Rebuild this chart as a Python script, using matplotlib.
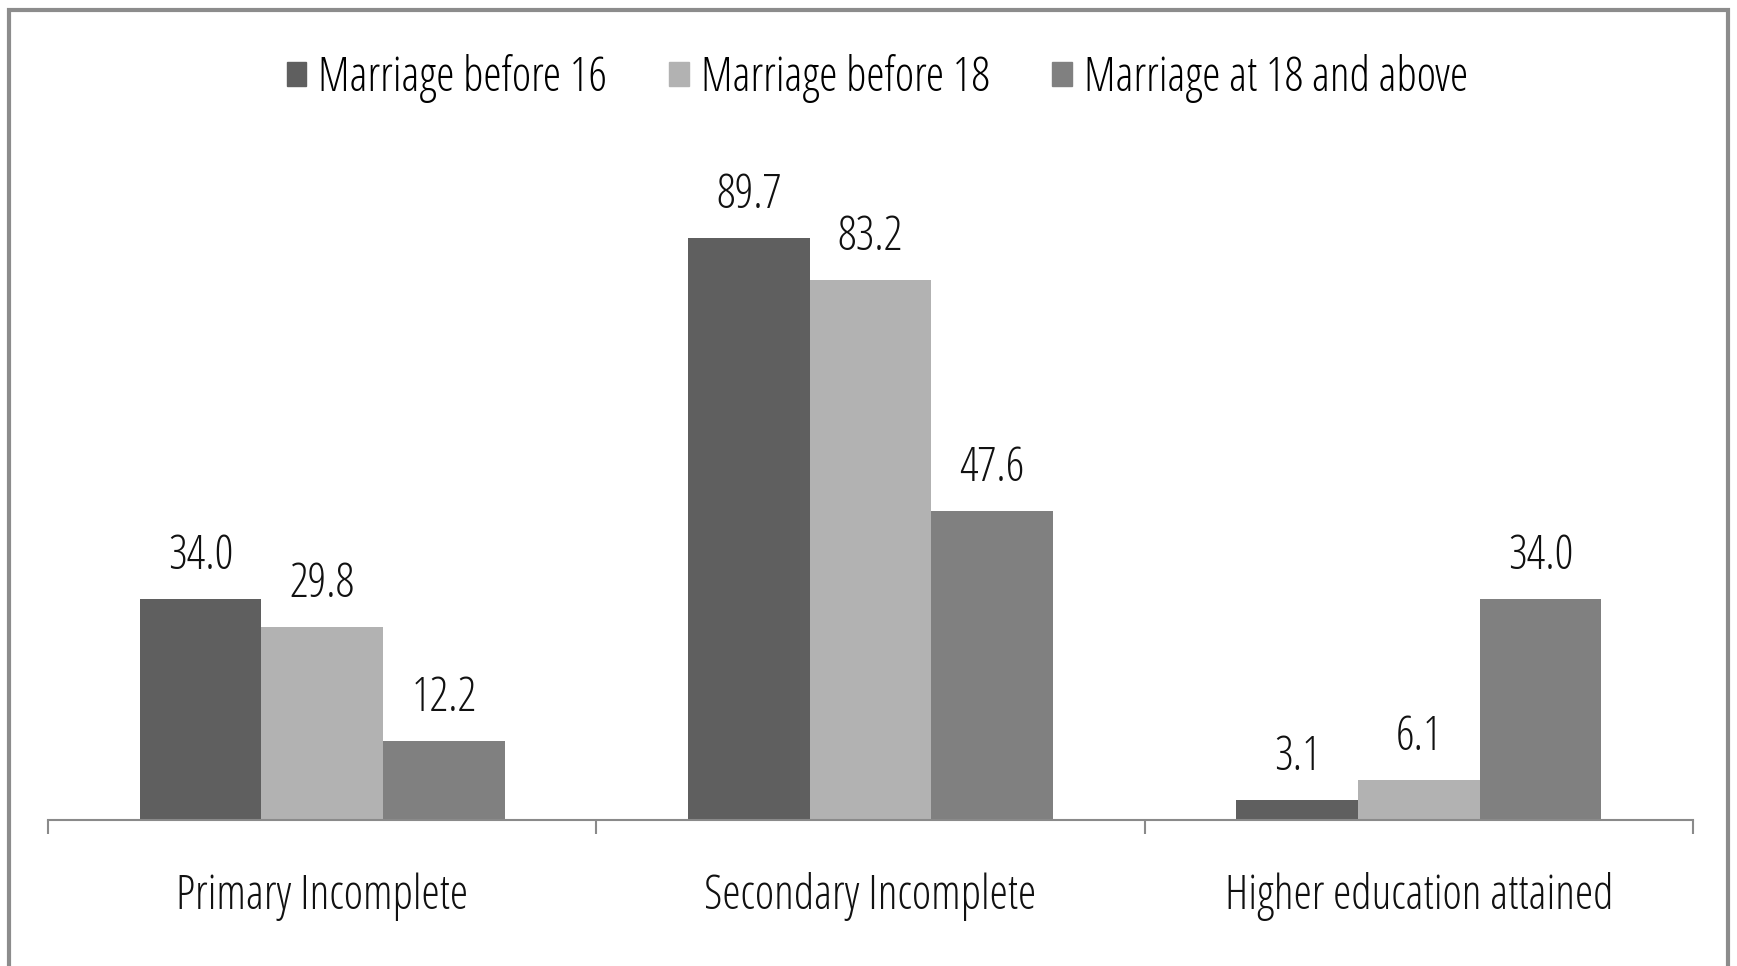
import matplotlib
matplotlib.use('Agg')
import matplotlib.pyplot as plt
import numpy as np
from matplotlib.patches import Rectangle, Patch

# ------------ donnees ------------
categories = ['Primary Incomplete', 'Secondary Incomplete', 'Higher education attained']
series_names = ['Marriage before 16', 'Marriage before 18', 'Marriage at 18 and above']
before16 = [34.0, 89.7, 3.1]
before18 = [29.8, 83.2, 6.1]
at18_above = [12.2, 47.6, 34.0]
colors = ['#5f5f5f', '#b2b2b2', '#808080']

# police etroite (proche du Calibri compresse de l'original)
plt.rcParams['font.family'] = ['Open Sans', 'DejaVu Sans']
plt.rcParams['font.stretch'] = 'condensed'
fs = 33.5

fig = plt.figure(figsize=(17.37, 9.66), dpi=100)
ax = fig.add_axes([0.0276, 0.1511, 0.9471, 0.672])

x = np.arange(len(categories))
w = 0.222
series = [before16, before18, at18_above]
for k, vals in enumerate(series):
    pos = x + (k - 1) * w
    ax.bar(pos, vals, width=w, color=colors[k], label=series_names[k])
    for p, v in zip(pos, vals):
        ax.annotate('%.1f' % v, (p, v), xytext=(0, 13), textcoords='offset points',
                    ha='center', va='bottom', fontsize=fs, color='#111111')

ax.set_xlim(-0.5, len(categories) - 0.5)
ax.set_ylim(0, 100)
for s in ['top', 'right', 'left']:
    ax.spines[s].set_visible(False)
ax.spines['bottom'].set_color('#8a8a8a')
ax.spines['bottom'].set_linewidth(1.5)
ax.set_yticks([])
ax.set_xticks(np.arange(len(categories) + 1) - 0.5)
ax.set_xticklabels([])
ax.tick_params(axis='x', length=10, width=1.5, color='#8a8a8a')
for i, c in enumerate(categories):
    ax.text(i, -0.118, c, transform=ax.get_xaxis_transform(), ha='center', va='center',
            fontsize=fs, color='#111111')

handles = [Patch(color=c) for c in colors]
fig.legend(handles, series_names, loc='center', bbox_to_anchor=(0.505, 0.919), ncol=3,
           frameon=False, fontsize=fs, handlelength=0.42, handleheight=0.42,
           handletextpad=0.25, columnspacing=1.35)

# cadre exterieur
fig.patches.append(Rectangle((0.005, -0.05), 0.99, 1.04, transform=fig.transFigure,
                             fill=False, edgecolor='#8c8c8c', linewidth=3))

fig.savefig('out.png', dpi=100)
